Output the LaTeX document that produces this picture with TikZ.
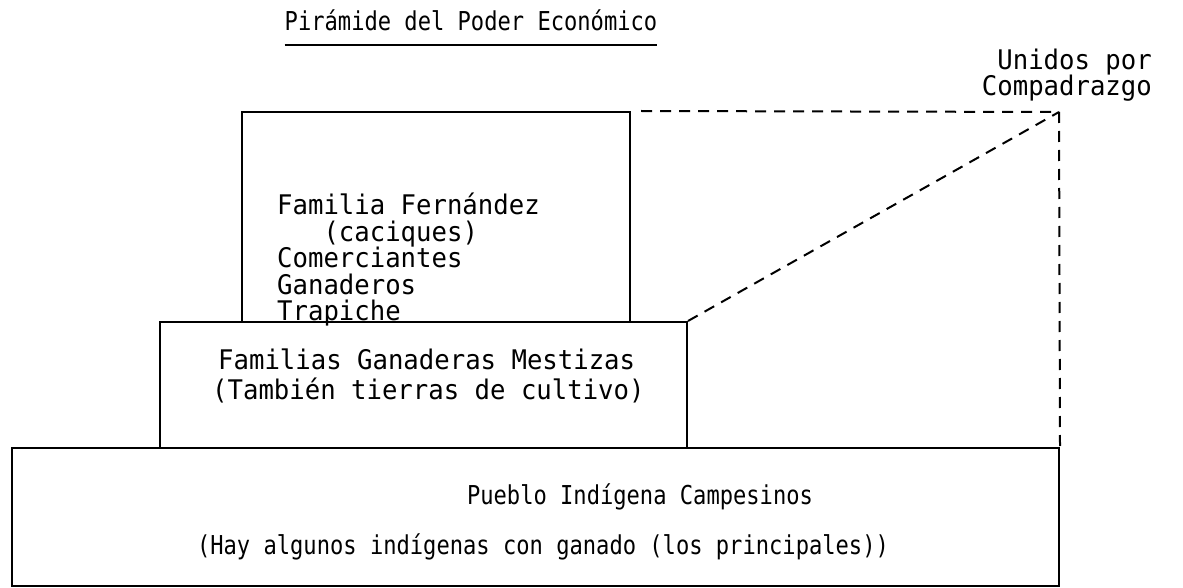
\documentclass[tikz,border=0pt]{standalone}
\usepackage{fontspec}
\newfontfamily\bodyfont[FakeStretch=0.95]{DejaVu Sans Mono}
\newfontfamily\smallfont[FakeStretch=0.85]{DejaVu Sans Mono}
\begin{document}
\begin{tikzpicture}[x=1pt,y=-1pt,
  box/.style={draw, line width=2pt, inner sep=0pt, rectangle},
  dline/.style={draw, line width=2pt, dash pattern=on 11pt off 8pt},
  big/.style={font=\bodyfont\fontsize{27}{26.5}\selectfont, inner sep=0pt},
  small/.style={font=\smallfont\fontsize{26}{27}\selectfont, inner sep=0pt}]
\useasboundingbox (0,0) rectangle (1183,588);
% boxes
\node[box, minimum width=388pt, minimum height=210pt] (top) at (436,217) {};
\node[box, minimum width=527pt, minimum height=126pt] (mid) at (423.5,385) {};
\node[box, minimum width=1047pt, minimum height=138pt] (bot) at (535.5,517) {};
% title
\node[small, anchor=base] (title) at (471,31) {Pirámide del Poder Económico};
\draw[line width=1.8pt] (title.south west |- 0,45) coordinate (u1) -- (title.south east |- 0,45) coordinate (u2);
% label
\node[big, align=right, anchor=east] (lab) at (1152,75) {Unidos por\\Compadrazgo};
% top box text
\node[big, align=left, anchor=west] (toptext) at (277,260)
  {Familia Fernández\\\phantom{xxx}(caciques)\\Comerciantes\\Ganaderos\\Trapiche};
% middle text
\node[big, font=\bodyfont\fontsize{27}{30}\selectfont, align=left, anchor=west] (midtext) at (212,376)
  {\hspace*{6pt}Familias Ganaderas Mestizas\\(También tierras de cultivo)};
% bottom text
\node[small, anchor=base] (b1) at (640,504) {Pueblo Indígena Campesinos};
\node[small, anchor=base] (b2) at (543,554) {(Hay algunos indígenas con ganado (los principales))};
% dashed connectors
\coordinate (c) at (1059,112);
\path[dline] ([xshift=10pt]top.north east) -- (c);
\path[dline] (mid.north east) -- (c);
\path[dline] (c) -- (bot.north east);
\end{tikzpicture}
\end{document}
